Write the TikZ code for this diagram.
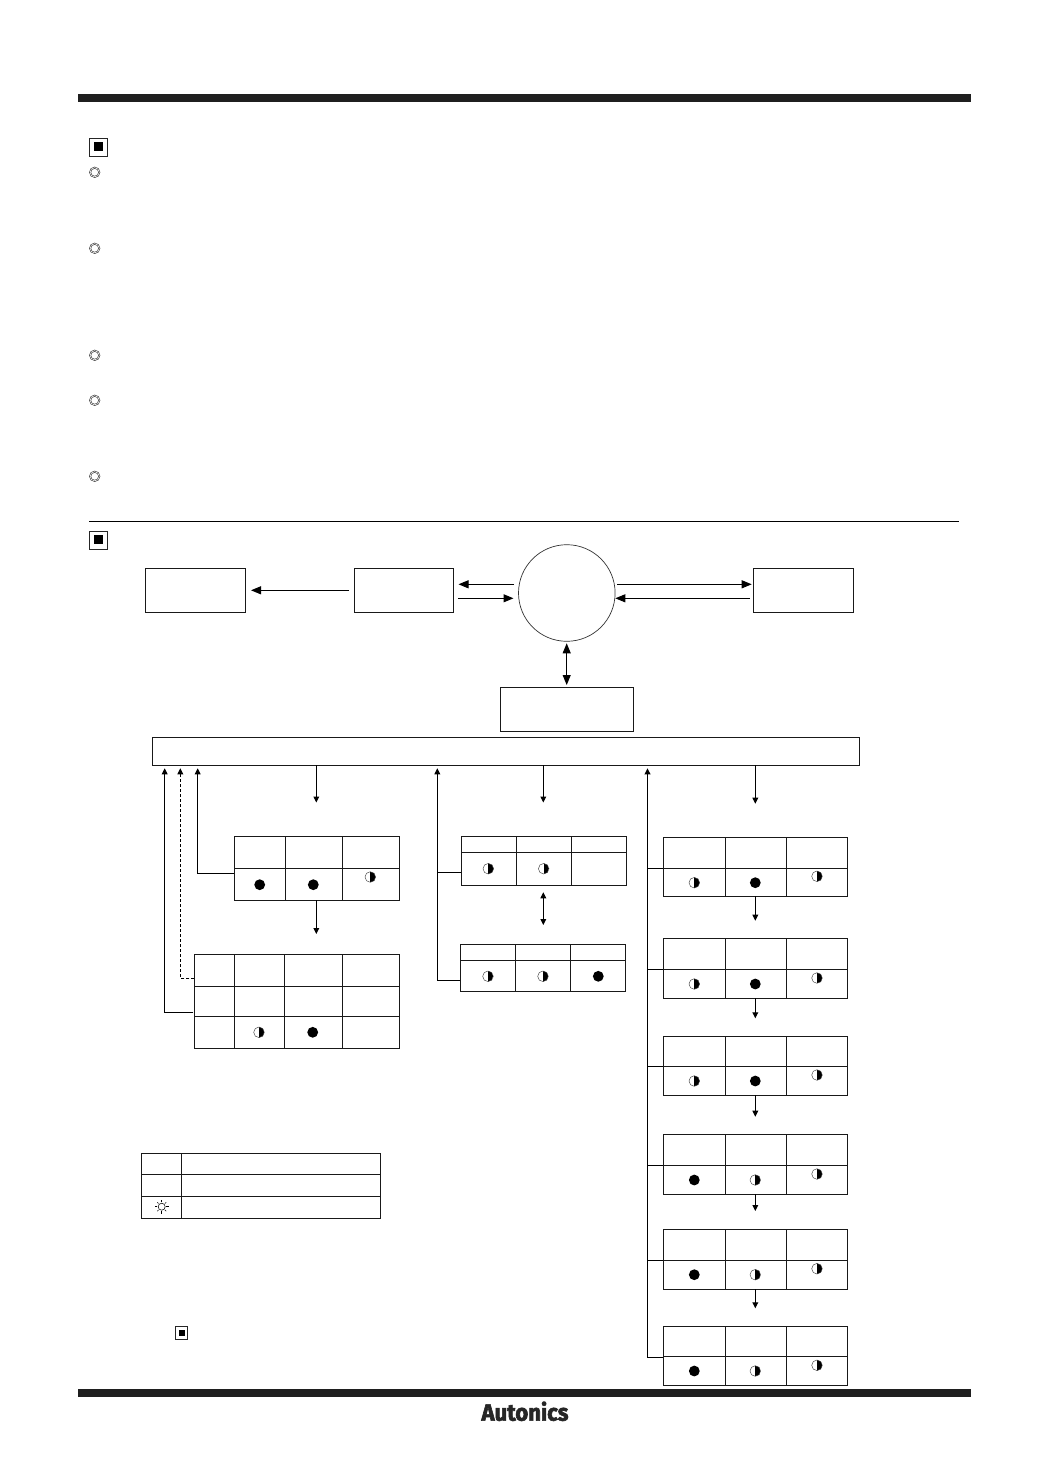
\documentclass[tikz,border=0pt]{standalone}
\usepackage{fontspec}
\usetikzlibrary{arrows.meta,calc}
\newfontfamily\logofont[FakeStretch=0.94,BoldFeatures={FakeBold=2.6}]{Fira Sans}
\tikzset{
  rulebar/.style={fill=black!88,draw=none,inner sep=0pt,outer sep=0pt},
  cell/.style={draw=black!90,line width=0.9pt,inner sep=0pt,outer sep=0pt,fill=none},
  bigbox/.style={cell,line width=1pt},
  conn/.style={line width=1pt,draw=black},
  bigtip/.style={-{Triangle[length=10pt,width=8pt]}},
  bigboth/.style={{Triangle[length=10pt,width=8pt]}-{Triangle[length=10pt,width=8pt]}},
  smalltip/.style={-{Triangle[length=6pt,width=5.8pt]}},
  smallboth/.style={{Triangle[length=6pt,width=5.8pt]}-{Triangle[length=6pt,width=5.8pt]}},
  fullsym/.style={circle,fill=black,draw=none,minimum size=10.8pt,inner sep=0pt,outer sep=0pt},
  halfsym/.style={circle,draw=black!75,line width=0.45pt,minimum size=10.6pt,inner sep=0pt,outer sep=0pt,
    path picture={\fill[black] (path picture bounding box.north) rectangle (path picture bounding box.south east);}},
  ringsym/.style={circle,draw=black!80,line width=0.6pt,double=white,double distance=0.6pt,minimum size=9.2pt,inner sep=0pt,outer sep=0pt},
  squaresym/.style={draw=black!85,line width=0.85pt,fill=white,minimum size=18pt,inner sep=0pt,outer sep=0pt},
  squarecore/.style={fill=black,draw=none,minimum size=9.3pt,inner sep=0pt,outer sep=0pt},
}
\newcommand{\cellbox}[5]{\node[cell,minimum width={#4-#2},minimum height={#5-#3}] (#1) at ({(#2+#4)/2},{(#3+#5)/2}) {};}
\newcommand{\bigrect}[5]{\node[bigbox,minimum width={#4-#2},minimum height={#5-#3}] (#1) at ({(#2+#4)/2},{(#3+#5)/2}) {};}
\newcommand{\tablethree}[8]{%
  \cellbox{#1a1}{#2}{#6}{#3}{#7}\cellbox{#1a2}{#3}{#6}{#4}{#7}\cellbox{#1a3}{#4}{#6}{#5}{#7}%
  \cellbox{#1b1}{#2}{#7}{#3}{#8}\cellbox{#1b2}{#3}{#7}{#4}{#8}\cellbox{#1b3}{#4}{#7}{#5}{#8}}
\begin{document}
\begin{tikzpicture}[x=1pt,y=-1pt]
\useasboundingbox (0,0) rectangle (1049,1474);
% page rules
\node[rulebar,minimum width=893pt,minimum height=8pt] (topbar) at (524.5,98) {};
\node[rulebar,minimum width=893pt,minimum height=8pt] (botbar) at (524.5,1393) {};
% section marks
\node[squaresym] (mark1) at (98.5,147) {};
\node[squarecore] (mark1c) at (98.7,146.7) {};
\node[squaresym] (mark2) at (98.5,540) {};
\node[squarecore] (mark2c) at (98.7,539.7) {};
% bullets
\node[ringsym] (b1) at (94.7,172.3) {};
\node[ringsym] (b2) at (94.7,248.3) {};
\node[ringsym] (b3) at (94.7,355.3) {};
\node[ringsym] (b4) at (94.7,400.3) {};
\node[ringsym] (b5) at (94.7,476.3) {};
% separator
\coordinate (sepL) at (89,521.3);
\coordinate (sepR) at (959,521.3);
\draw[line width=0.9pt] (sepL) -- (sepR);
% upper block
\bigrect{boxa}{145.3}{568.3}{245.7}{612.3}
\bigrect{boxb}{354.3}{568.3}{453.7}{612.3}
\bigrect{boxc}{753.3}{568.3}{853.7}{612.3}
\bigrect{boxd}{500.3}{687.3}{633.7}{731.3}
\bigrect{boxbar}{152.3}{737.3}{859.7}{765.3}
\node[circle,draw=black!80,line width=0.7pt,minimum size=96.6pt,inner sep=0pt,outer sep=0pt] (hub) at (566.8,593) {};
\coordinate (p1) at (349,590.3); \coordinate (p2) at (251,590.3);
\draw[conn,bigtip] (p1) -- (p2);
\coordinate (p3) at (514,584.3); \coordinate (p4) at (458.5,584.3);
\draw[conn,bigtip] (p3) -- (p4);
\coordinate (p5) at (458,598.3); \coordinate (p6) at (513.5,598.3);
\draw[conn,bigtip] (p5) -- (p6);
\coordinate (p7) at (617,584.3); \coordinate (p8) at (751.7,584.3);
\draw[conn,bigtip] (p7) -- (p8);
\coordinate (p9) at (749.7,598.3); \coordinate (p10) at (615.3,598.3);
\draw[conn,bigtip] (p9) -- (p10);
\coordinate (p11) at (566.7,643.3); \coordinate (p12) at (566.7,685);
\draw[conn,bigboth] (p11) -- (p12);
% left tables
\tablethree{ta}{234.3}{285.3}{342.3}{399.3}{836.3}{868.3}{900.3}
\node[fullsym] (sa1) at (259.7,884.7) {};
\node[fullsym] (sa2) at (313.3,884.7) {};
\node[halfsym] (sa3) at (370.3,877) {};
\foreach \r/\yt/\yb in {a/954.7/986.3,b/986.3/1016.3,c/1016.3/1048.3}{
  \cellbox{tb\r1}{194.3}{\yt}{234.3}{\yb}
  \cellbox{tb\r2}{234.3}{\yt}{284.3}{\yb}
  \cellbox{tb\r3}{284.3}{\yt}{342.3}{\yb}
  \cellbox{tb\r4}{342.3}{\yt}{399.3}{\yb}
}
\node[halfsym] (sb1) at (259,1032.3) {};
\node[fullsym] (sb2) at (312.7,1032.3) {};
% middle tables
\tablethree{tc}{461.3}{516.3}{571.3}{626.3}{836.3}{852.3}{885.3}
\node[halfsym] (sc1) at (488.3,868.7) {};
\node[halfsym] (sc2) at (543.7,868.7) {};
\tablethree{td}{460.3}{515.3}{570.3}{625.3}{944.3}{960.3}{991.3}
\node[halfsym] (sd1) at (488,976.3) {};
\node[halfsym] (sd2) at (543,976.3) {};
\node[fullsym] (sd3) at (598.3,976.3) {};
% right tables
\tablethree{te}{663.3}{725.3}{786.3}{847.3}{837.3}{868.3}{896.3}
\node[halfsym] (se1) at (694.3,882.7) {};
\node[fullsym] (se2) at (755.3,882.7) {};
\node[halfsym] (se3) at (817,876.3) {};
\tablethree{tf}{663.3}{725.3}{786.3}{847.3}{938.3}{969.3}{998.3}
\node[halfsym] (sf1) at (694.3,984) {};
\node[fullsym] (sf2) at (755.3,984) {};
\node[halfsym] (sf3) at (817,978) {};
\tablethree{tg}{663.3}{725.3}{786.3}{847.3}{1036.3}{1066.3}{1095.3}
\node[halfsym] (sg1) at (694.3,1081) {};
\node[fullsym] (sg2) at (755.3,1081) {};
\node[halfsym] (sg3) at (817,1075) {};
\tablethree{th}{663.3}{725.3}{786.3}{847.3}{1134.3}{1165.3}{1194.3}
\node[fullsym] (sh1) at (694.3,1180) {};
\node[halfsym] (sh2) at (755.3,1180) {};
\node[halfsym] (sh3) at (817,1174) {};
\tablethree{ti}{663.3}{725.3}{786.3}{847.3}{1229.3}{1260.3}{1289.3}
\node[fullsym] (si1) at (694.3,1274.7) {};
\node[halfsym] (si2) at (755.3,1274.7) {};
\node[halfsym] (si3) at (817,1268.7) {};
\tablethree{tj}{663.3}{725.3}{786.3}{847.3}{1326.3}{1356.3}{1385.3}
\node[fullsym] (sj1) at (694.3,1371) {};
\node[halfsym] (sj2) at (755.3,1371) {};
\node[halfsym] (sj3) at (817,1365.3) {};
% down arrows from the bar
\coordinate (d1a) at (316.3,765.3); \coordinate (d1b) at (316.3,802.5);
\draw[conn,smalltip] (d1a) -- (d1b);
\coordinate (d2a) at (543.3,765.3); \coordinate (d2b) at (543.3,802.5);
\draw[conn,smalltip] (d2a) -- (d2b);
\coordinate (d3a) at (755.3,765.3); \coordinate (d3b) at (755.3,803.7);
\draw[conn,smalltip] (d3a) -- (d3b);
% arrows between tables
\coordinate (ab1) at (316.3,900.3); \coordinate (ab2) at (316.3,934);
\draw[conn,smalltip] (ab1) -- (ab2);
\coordinate (cd1) at (543.3,892.3); \coordinate (cd2) at (543.3,925);
\draw[conn,smallboth] (cd1) -- (cd2);
\coordinate (ef1) at (755.3,896.3); \coordinate (ef2) at (755.3,920.7);
\draw[conn,smalltip] (ef1) -- (ef2);
\coordinate (fg1) at (755.3,998.3); \coordinate (fg2) at (755.3,1018.3);
\draw[conn,smalltip] (fg1) -- (fg2);
\coordinate (gh1) at (755.3,1095.3); \coordinate (gh2) at (755.3,1116.7);
\draw[conn,smalltip] (gh1) -- (gh2);
\coordinate (hi1) at (755.3,1194.3); \coordinate (hi2) at (755.3,1211);
\draw[conn,smalltip] (hi1) -- (hi2);
\coordinate (ij1) at (755.3,1289.3); \coordinate (ij2) at (755.3,1308.3);
\draw[conn,smalltip] (ij1) -- (ij2);
% return lines
\coordinate (ua) at (197.7,768.3); \coordinate (ja) at (234.3,873.3);
\draw[conn,smalltip] (ja) -| (ua);
\coordinate (ub) at (180.3,768.3); \coordinate (jb) at (194.3,978);
\draw[conn,smalltip,dash pattern=on 3pt off 2pt] (jb) -| (ub);
\coordinate (uc) at (164.7,768.3); \coordinate (jc) at (193.3,1012.3);
\draw[conn,smalltip] (jc) -| (uc);
\coordinate (ud) at (437.3,768.3); \coordinate (jd) at (460.3,980.3); \coordinate (je) at (461.3,872.7);
\draw[conn,smalltip] (jd) -| (ud);
\draw[conn] (je) -- (je -| ud);
\coordinate (uf) at (647.5,768.3); \coordinate (jj) at (663.3,1357);
\draw[conn,smalltip] (jj) -| (uf);
\foreach \n in {te,tf,tg,th,ti}{\draw[conn] (\n b1.north west) -- (\n b1.north west -| uf);}
% legend
\foreach \r/\yt/\yb in {a/1153.3/1174.3,b/1174.3/1196.3,c/1196.3/1218.3}{
  \cellbox{lg\r1}{141.3}{\yt}{181.3}{\yb}
  \cellbox{lg\r2}{181.3}{\yt}{380.3}{\yb}
}
\node[circle,draw=black,line width=0.55pt,minimum size=7pt,inner sep=0pt,outer sep=0pt] (sun) at (161.7,1206.7) {};
\foreach \a in {0,90,180,270}{\draw[line width=0.55pt] (sun.center) ++(\a:4.3) -- ++(\a:2.8);}
\foreach \a in {45,135,225,315}{\draw[line width=0.55pt] (sun.center) ++(\a:4.5) -- ++(\a:1.8);}
% small mark
\node[squaresym,minimum size=12.4pt] (mark3) at (181.5,1333) {};
\node[squarecore,minimum size=6pt] (mark3c) at (182,1333) {};
% logo
\node[inner sep=0pt,text=black!85] (logo) at (525,1411.3) {\logofont\bfseries\fontsize{23.5}{24}\selectfont Autonics};
\end{tikzpicture}
\end{document}
